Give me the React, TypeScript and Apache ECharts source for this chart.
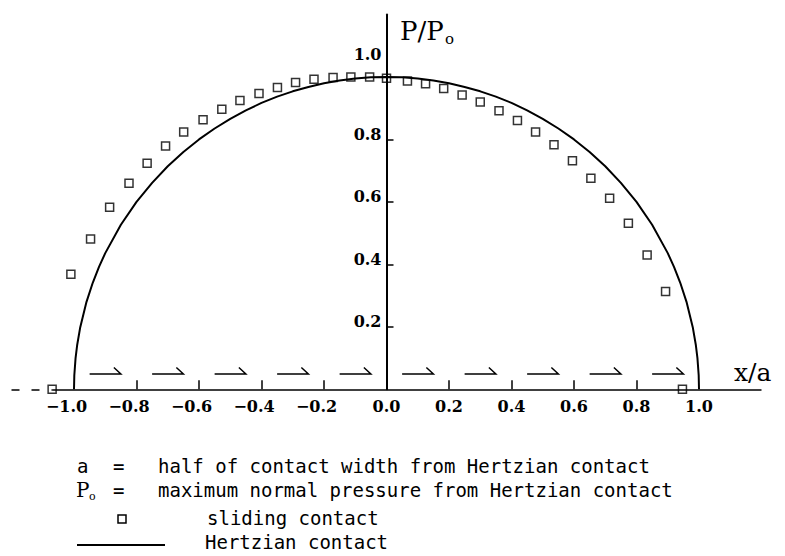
import { useEffect, useRef } from "react";
import * as echarts from "echarts";

// Measured pressure distribution under sliding contact (x/a, P/Po)
const slidingX = [
  -1.07, -1.01, -0.947, -0.886, -0.824, -0.766, -0.707, -0.649, -0.587, -0.527,
  -0.469, -0.408, -0.349, -0.291, -0.232, -0.171, -0.114, -0.054, 0.0, 0.067,
  0.125, 0.183, 0.242, 0.3, 0.36, 0.419, 0.477, 0.536, 0.595, 0.654, 0.714,
  0.774, 0.834, 0.893, 0.947,
];
const slidingP = [
  0, 0.368, 0.481, 0.583, 0.66, 0.724, 0.779, 0.824, 0.863, 0.897, 0.925, 0.947,
  0.966, 0.982, 0.993, 0.998, 1.0, 1.0, 0.996, 0.987, 0.978, 0.963, 0.942, 0.92,
  0.892, 0.861, 0.824, 0.783, 0.732, 0.676, 0.612, 0.532, 0.43, 0.313, 0,
];

// Hertzian contact pressure profile (x/a, P/Po)
const hertzX = [
  -1.0, -0.999, -0.995, -0.99, -0.98, -0.96, -0.94, -0.92, -0.9, -0.85, -0.8,
  -0.75, -0.7, -0.65, -0.6, -0.55, -0.5, -0.45, -0.4, -0.35, -0.3, -0.25, -0.2,
  -0.15, -0.1, -0.05, 0.0, 0.05, 0.1, 0.15, 0.2, 0.25, 0.3, 0.35, 0.4, 0.45, 0.5,
  0.55, 0.6, 0.65, 0.7, 0.75, 0.8, 0.85, 0.9, 0.92, 0.94, 0.96, 0.98, 0.99,
  0.995, 0.999, 1.0,
];
const hertzP = [
  0, 0.045, 0.1, 0.141, 0.199, 0.28, 0.341, 0.392, 0.436, 0.527, 0.6, 0.661,
  0.714, 0.76, 0.8, 0.835, 0.866, 0.893, 0.917, 0.937, 0.954, 0.968, 0.98, 0.989,
  0.995, 0.999, 1.0, 0.999, 0.995, 0.989, 0.98, 0.968, 0.954, 0.937, 0.917,
  0.893, 0.866, 0.835, 0.8, 0.76, 0.714, 0.661, 0.6, 0.527, 0.436, 0.392, 0.341,
  0.28, 0.199, 0.141, 0.1, 0.045, 0,
];

// Sliding direction arrows: start position of each arrow along x/a
const arrowStarts = [-0.95, -0.75, -0.55, -0.35, -0.15, 0.05, 0.25, 0.45, 0.65, 0.85];

// Axis ticks and labels
const xTickValues = [-0.8, -0.6, -0.4, -0.2, 0.2, 0.4, 0.6, 0.8];
const xLabelValues = [-1.0, -0.8, -0.6, -0.4, -0.2, 0.0, 0.2, 0.4, 0.6, 0.8, 1.0];
const yTickValues = [0.2, 0.4, 0.6, 0.8];
const yLabelValues = [0.2, 0.4, 0.6, 0.8, 1.0];

const SERIF = "DejaVu Serif";
const MONO = "DejaVu Sans Mono";

// plot frame (pixels)
const PLOT_LEFT = 11.5;
const PLOT_RIGHT = 23.5;
const PLOT_TOP = 14.5;
const PLOT_BOTTOM = 166.7;
const Y_AXIS_X = 386.5;

export default function App() {
  const ref = useRef<HTMLDivElement>(null);

  useEffect(() => {
    if (!ref.current) return;
    const chart = echarts.init(ref.current, null, { renderer: "svg" });

    const arrowLevel = 0.049;
    const arrowLength = 0.1;

    const tickFont = { fontFamily: SERIF, fontSize: 16, fontWeight: "bold" as const, color: "#000" };

    const text = (
      str: string,
      x: number,
      y: number,
      size = 19,
      weight = "normal",
      family = MONO,
    ) => ({
      type: "text",
      x,
      y,
      silent: true,
      style: {
        text: str,
        fill: "#000",
        font: `${weight} ${size}px "${family}"`,
        align: "left",
        textAlign: "left",
        verticalAlign: "middle",
        textVerticalAlign: "middle",
      },
    });

    chart.setOption({
      animation: false,
      backgroundColor: "#fff",
      grid: [
        {
          left: PLOT_LEFT,
          right: PLOT_RIGHT,
          top: PLOT_TOP,
          bottom: PLOT_BOTTOM,
          containLabel: false,
          outerBoundsMode: "none",
        },
        {
          left: Y_AXIS_X,
          width: 100,
          top: PLOT_TOP,
          bottom: PLOT_BOTTOM,
          containLabel: false,
          outerBoundsMode: "none",
        },
      ],
      xAxis: [
        {
          type: "value",
          gridIndex: 0,
          min: -1.2,
          max: 1.2,
          splitLine: { show: false },
          axisLine: { show: false },
          axisTick: {
            show: true,
            inside: true,
            length: 9,
            customValues: xTickValues,
            lineStyle: { color: "#000", width: 1.5 },
          },
          axisLabel: {
            customValues: xLabelValues,
            margin: 9,
            ...tickFont,
            formatter: (v: number) =>
              v < -1e-9
                ? `{neg|\u2212${Math.abs(v).toFixed(1)}}`
                : `{pos|${Math.abs(v).toFixed(1)}}`,
            rich: {
              neg: { ...tickFont, padding: [0, 15, 0, 0] },
              pos: { ...tickFont },
            },
          },
        },
        { type: "value", gridIndex: 1, min: 0, max: 1, show: false },
      ],
      yAxis: [
        { type: "value", gridIndex: 0, min: 0, max: 1.2, show: false },
        {
          type: "value",
          gridIndex: 1,
          min: 0,
          max: 1.2,
          splitLine: { show: false },
          axisLine: { show: true, onZero: false, lineStyle: { color: "#000", width: 2 } },
          axisTick: {
            show: true,
            inside: true,
            length: 7,
            customValues: yTickValues,
            lineStyle: { color: "#000", width: 1.5 },
          },
          axisLabel: {
            customValues: yLabelValues,
            margin: 5,
            ...tickFont,
            formatter: (v: number) =>
              Math.abs(v - 1) < 1e-6 ? `{top|${v.toFixed(1)}}` : `{std|${v.toFixed(1)}}`,
            rich: {
              top: { ...tickFont, padding: [0, 0, 44, 0] },
              std: { ...tickFont, padding: [0, 0, 10, 0] },
            },
          },
        },
      ],
      series: [
        {
          name: "Hertzian contact",
          type: "line",
          xAxisIndex: 0,
          yAxisIndex: 0,
          data: hertzX.map((x, i) => [x, hertzP[i]]),
          showSymbol: false,
          smooth: false,
          lineStyle: { color: "#000", width: 2 },
          silent: true,
          z: 3,
          markLine: {
            silent: true,
            symbol: "none",
            label: { show: false },
            lineStyle: { color: "#000", width: 1.5, type: "solid" },
            data: [
              [
                { coord: [-1.2, 0], lineStyle: { color: "#000", width: 1.5, type: [8, 12] } },
                { coord: [slidingX[0], 0] },
              ],
              [{ coord: [slidingX[0], 0] }, { coord: [1.2, 0] }],
            ],
          },
        },
        {
          name: "sliding contact",
          type: "scatter",
          xAxisIndex: 0,
          yAxisIndex: 0,
          data: slidingX.map((x, i) => [x, slidingP[i]]),
          symbol: "rect",
          symbolSize: 8,
          itemStyle: { color: "rgba(0,0,0,0)", borderColor: "#000", borderWidth: 1.5 },
          silent: true,
          z: 4,
        },
        {
          name: "direction",
          type: "custom",
          xAxisIndex: 0,
          yAxisIndex: 0,
          data: arrowStarts.map((s) => [s, arrowLevel]),
          encode: { x: 0, y: 1 },
          silent: true,
          renderItem: (_params: any, api: any) => {
            const x0 = api.value(0);
            const y0 = api.value(1);
            const a = api.coord([x0, y0]);
            const b = api.coord([x0 + arrowLength, y0]);
            return {
              type: "polyline",
              shape: { points: [a, b, [b[0] - 7, b[1] - 6.5]] },
              style: { stroke: "#000", lineWidth: 1.5, fill: "none" },
            };
          },
        },
      ],
      graphic: [
        // axis titles
        text("P/P", 400, 31, 26, "normal", SERIF),
        text("o", 445, 39, 15, "normal", SERIF),
        text("x/a", 734, 372, 25, "normal", SERIF),
        // notation and legend
        text("a", 77, 466),
        text("=", 113, 466),
        text("half of contact width from Hertzian contact", 158, 466),
        text("P", 76, 490, 20, "normal", SERIF),
        text("o", 89, 496, 11, "normal", SERIF),
        text("=", 113, 490),
        text("maximum normal pressure from Hertzian contact", 158, 490),
        {
          type: "rect",
          silent: true,
          shape: { x: 118, y: 515, width: 8, height: 8 },
          style: { fill: "none", stroke: "#000", lineWidth: 1.5 },
        },
        text("sliding contact", 207, 518),
        {
          type: "line",
          silent: true,
          shape: { x1: 77, y1: 545, x2: 165, y2: 545 },
          style: { stroke: "#000", lineWidth: 2 },
        },
        text("Hertzian contact", 205, 542),
      ],
    });

    return () => chart.dispose();
  }, []);

  return (
    <div
      ref={ref}
      style={{ position: "absolute", left: 0, top: 0, width: 785, height: 556 }}
    />
  );
}
